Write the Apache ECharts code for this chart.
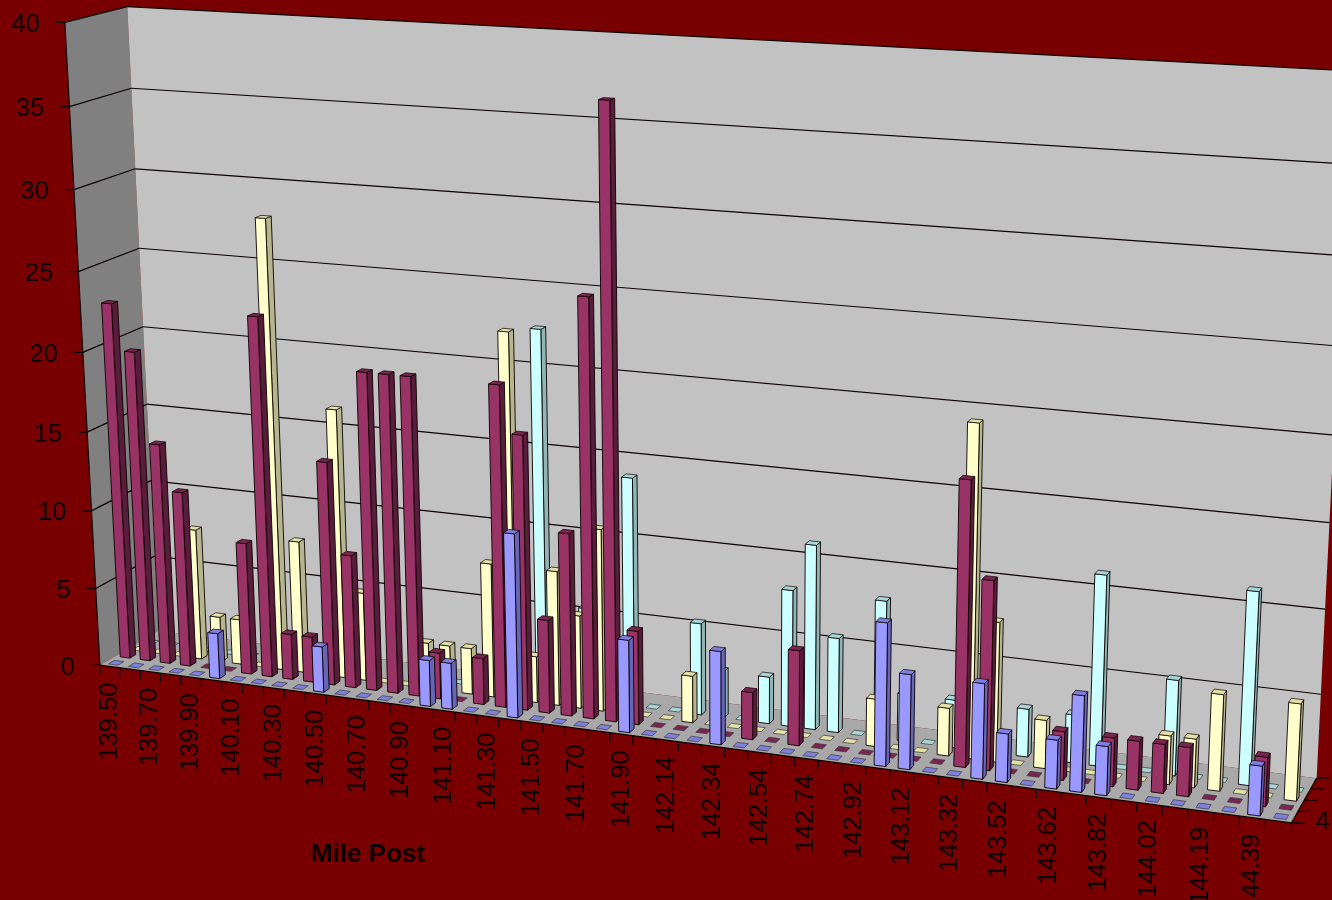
<!DOCTYPE html>
<html><head><meta charset="utf-8">
<style>html,body{margin:0;padding:0;background:#780000}#c{width:1332px;height:900px}</style>
<script src="https://cdn.jsdelivr.net/npm/echarts@6/dist/echarts.min.js"></script>
</head><body><div id="c"></div>
<script>
const milePosts = ['139.50','139.60','139.70','139.80','139.90','140.00','140.10','140.20','140.30','140.40','140.50','140.60','140.70','140.80','140.90','141.00','141.10','141.20','141.30','141.40','141.50','141.60','141.70','141.80','141.90','142.04','142.14','142.24','142.34','142.44','142.54','142.64','142.74','142.84','142.92','143.02','143.12','143.22','143.32','143.42','143.52','143.57','143.62','143.72','143.82','143.92','144.02','144.10','144.19','144.29','144.39','144.49'];
const valueTicks = [0,5,10,15,20,25,30,35,40];
const depthNames = ['4','3','2','1'];
const series4 = [0,0,0,0,0,2.9,0,0,0,0,2.9,0,0,0,0,2.9,2.9,0,0,11.4,0,0,0,0,5.7,0,0,0,5.7,0,0,0,0,0,0,8.6,5.7,0,0,5.7,2.9,0,2.9,5.7,2.9,0,0,0,0,0,2.9,0];
const series3 = [22.7,19.8,14.1,11.2,0,0,8.4,22.7,2.9,2.9,14.1,8.4,19.9,19.9,19.9,2.9,0,2.9,19.9,17,5.8,11.3,25.6,37,5.8,0,0,0,0,2.9,0,5.8,0,0,0,0,0,0,17,11.3,0,0,2.9,0,2.9,2.9,2.9,2.9,0,0,2.9,0];
const series2 = [0,0,0,8.4,2.9,2.9,0,28.4,8.4,0,17,5.6,0,0,2.9,2.9,2.9,8.4,22.75,2.9,8.4,5.8,11.3,0,0,0,2.9,0,0,0,0,0,0,0,2.9,0,0,2.9,19.9,8.4,0,2.9,0,0,0,0,2.9,2.9,5.7,0,0,5.7];
const series1 = [0,0,0,0,0,0,0,0,0,0,0,0,0,0,0,0,0,0,0,22.7,0,5.8,0,14.2,0,0,5.7,2.9,0,2.9,8.4,11.3,5.8,0,8.4,2.9,0,2.9,0,0,2.9,0,2.9,11.4,0,0,5.7,0,0,11.4,0,0];

// Camera: fitted so that the unit cube (u along categories, d in depth, v up) lands on the picture.
const cameraFit = [
 [0,0,0,100,665],[1,0,0,1291,824],[0,1,0,158,631],[1,1,0,1317,777],
 [0,0,1,65,22],[0,1,1,127,7],[1,1,1,1352,71],
 [0,0,.5,83,352],[0,1,.5,143,327],[1,1,.5,1334,435]
];
function solveCamera(pts){
  const A=[],b=[];
  pts.forEach(([u,d,v,X,Y])=>{
    A.push([u,d,v,1,0,0,0,0,-X*u,-X*d,-X*v]);b.push(X);
    A.push([0,0,0,0,u,d,v,1,-Y*u,-Y*d,-Y*v]);b.push(Y);
  });
  const n=11,M=[];
  for(let r=0;r<n;r++){M[r]=[];for(let c=0;c<n;c++){let s=0;A.forEach(a=>s+=a[r]*a[c]);M[r][c]=s;}
    let s=0;A.forEach((a,k)=>s+=a[r]*b[k]);M[r][n]=s;}
  for(let c=0;c<n;c++){let p=c;for(let r=c+1;r<n;r++)if(Math.abs(M[r][c])>Math.abs(M[p][c]))p=r;
    [M[c],M[p]]=[M[p],M[c]];
    for(let r=0;r<n;r++)if(r!==c){const f=M[r][c]/M[c][c];for(let k=c;k<=n;k++)M[r][k]-=f*M[c][k];}}
  return M.map((row,i)=>row[n]/row[i]);
}
const C=solveCamera(cameraFit);
function P(u,d,v){const w=C[8]*u+C[9]*d+C[10]*v+1;
  return [(C[0]*u+C[1]*d+C[2]*v+C[3])/w,(C[4]*u+C[5]*d+C[6]*v+C[7])/w];}

const W=1332,H=900,INK='#0c0000',FONT='"Liberation Sans",Arial,sans-serif';
const poly=(pts,fill,stroke,lw)=>({type:'polygon',shape:{points:pts},style:{fill:fill,stroke:stroke||null,lineWidth:lw||0}});
const line=(a,b,lw)=>({type:'line',shape:{x1:a[0],y1:a[1],x2:b[0],y2:b[1]},style:{stroke:INK,lineWidth:lw||1.2}});
const txt=(x,y,s,o)=>({type:'text',x:x,y:y,rotation:o.rot||0,style:Object.assign({text:s,fill:INK,fontSize:25.5,fontFamily:FONT},o.s)});

function renderFrame(params,api){
  const toV=val=>(H-api.coord([0,val])[1])/H;
  const ch=[
    poly([P(0,0,0),P(0,1,0),P(0,1,1),P(0,0,1)],'#808080'),
    poly([P(0,1,0),P(1,1,0),P(1,1,1),P(0,1,1)],'#c2c2c2'),
    poly([P(0,0,0),P(1,0,0),P(1,1,0),P(0,1,0)],'#a8a8a8')
  ];
  valueTicks.forEach(t=>{const v=toV(t);
    if(t>0){ch.push(line(P(0,0,v),P(0,1,v)),line(P(0,1,v),P(1,1,v)));}
    const p=P(0,0,v);
    ch.push(line([p[0]-9,p[1]],p));
    ch.push(txt(p[0]-25,p[1]+2.5,String(t),{s:{align:'right',verticalAlign:'middle'}}));
  });
  ch.push(line(P(0,0,0),P(0,0,toV(40))));
  ch.push(line(P(0,0,0),P(1,0,0)));
  ch.push(line(P(1,0,0),P(1,1,0)));
  const bw=api.size([1,0])[0]/W;
  milePosts.forEach((m,i)=>{
    const uc=api.coord([i,0])[0]/W;
    const a=P(uc-bw/2,0,0);
    ch.push(line(a,[a[0],a[1]+9]));
    if(i===milePosts.length-1){const e=P(1,0,0);ch.push(line(e,[e[0],e[1]+9]));}
    if(i%2===0){const c=P(uc,0,0);
      ch.push(txt(c[0],c[1]+16,m,{rot:Math.PI/2,s:{align:'right',verticalAlign:'middle'}}));}
  });
  for(let r=0;r<=4;r++){const a=P(1,r/4,0);ch.push(line(a,[a[0]+13,a[1]]));}
  const lab=P(1,.125,0);
  ch.push(txt(lab[0]+21,lab[1]+5,depthNames[0],{s:{align:'left',verticalAlign:'middle'}}));
  return {type:'group',children:ch};
}

function barRenderer(row,front,side,top){
  const dc=.105+.2*row,dh=.05,fr=.24;
  return function(params,api){
    const i=api.value(0),val=api.value(1);
    const base=api.coord([i,0]),tip=api.coord([i,val]);
    const uc=base[0]/W,hw=api.size([1,0])[0]/W*fr,v=(H-tip[1])/H;
    const u0=uc-hw,u1=uc+hw,d0=dc-dh,d1=dc+dh;
    const ch=[];
    if(val>0){
      ch.push(poly([P(u1,d0,0),P(u1,d1,0),P(u1,d1,v),P(u1,d0,v)],side,INK,.9));
      ch.push(poly([P(u0,d0,0),P(u1,d0,0),P(u1,d0,v),P(u0,d0,v)],front,INK,.9));
    }
    ch.push(poly([P(u0,d0,v),P(u1,d0,v),P(u1,d1,v),P(u0,d1,v)],top,val>0?INK:'#3a3a3a',.7));
    return {type:'group',children:ch};
  };
}
const rows=[
 {name:'1',vals:series1,row:3,c:['#ccffff','#8fb5b5','#a8d6d6']},
 {name:'2',vals:series2,row:2,c:['#ffffcc','#b5b58e','#e2e2a8']},
 {name:'3',vals:series3,row:1,c:['#993366','#571d3a','#7a2450']},
 {name:'4',vals:series4,row:0,c:['#9999ff','#6666b8','#7f7fe0']}
];
const chart=echarts.init(document.getElementById('c'),null,{renderer:'canvas'});
chart.setOption({
  animation:false,backgroundColor:'#780000',
  title:{text:'Mile Post',left:311,top:842,padding:0,textStyle:{color:INK,fontFamily:FONT,fontWeight:'bold',fontSize:26}},
  grid:{left:0,top:0,width:W,height:H,containLabel:false},
  xAxis:{type:'category',data:milePosts,show:false},
  yAxis:{type:'value',min:0,max:40,interval:5,show:false},
  series:[{type:'custom',name:'frame',silent:true,clip:false,data:[[0,0]],renderItem:renderFrame,encode:{x:0,y:1}}]
   .concat(rows.map(r=>({type:'custom',name:r.name,silent:true,clip:false,
      data:r.vals.map((v,i)=>[i,v]),encode:{x:0,y:1},
      renderItem:barRenderer(r.row,r.c[0],r.c[1],r.c[2])})))
});
</script></body></html>
